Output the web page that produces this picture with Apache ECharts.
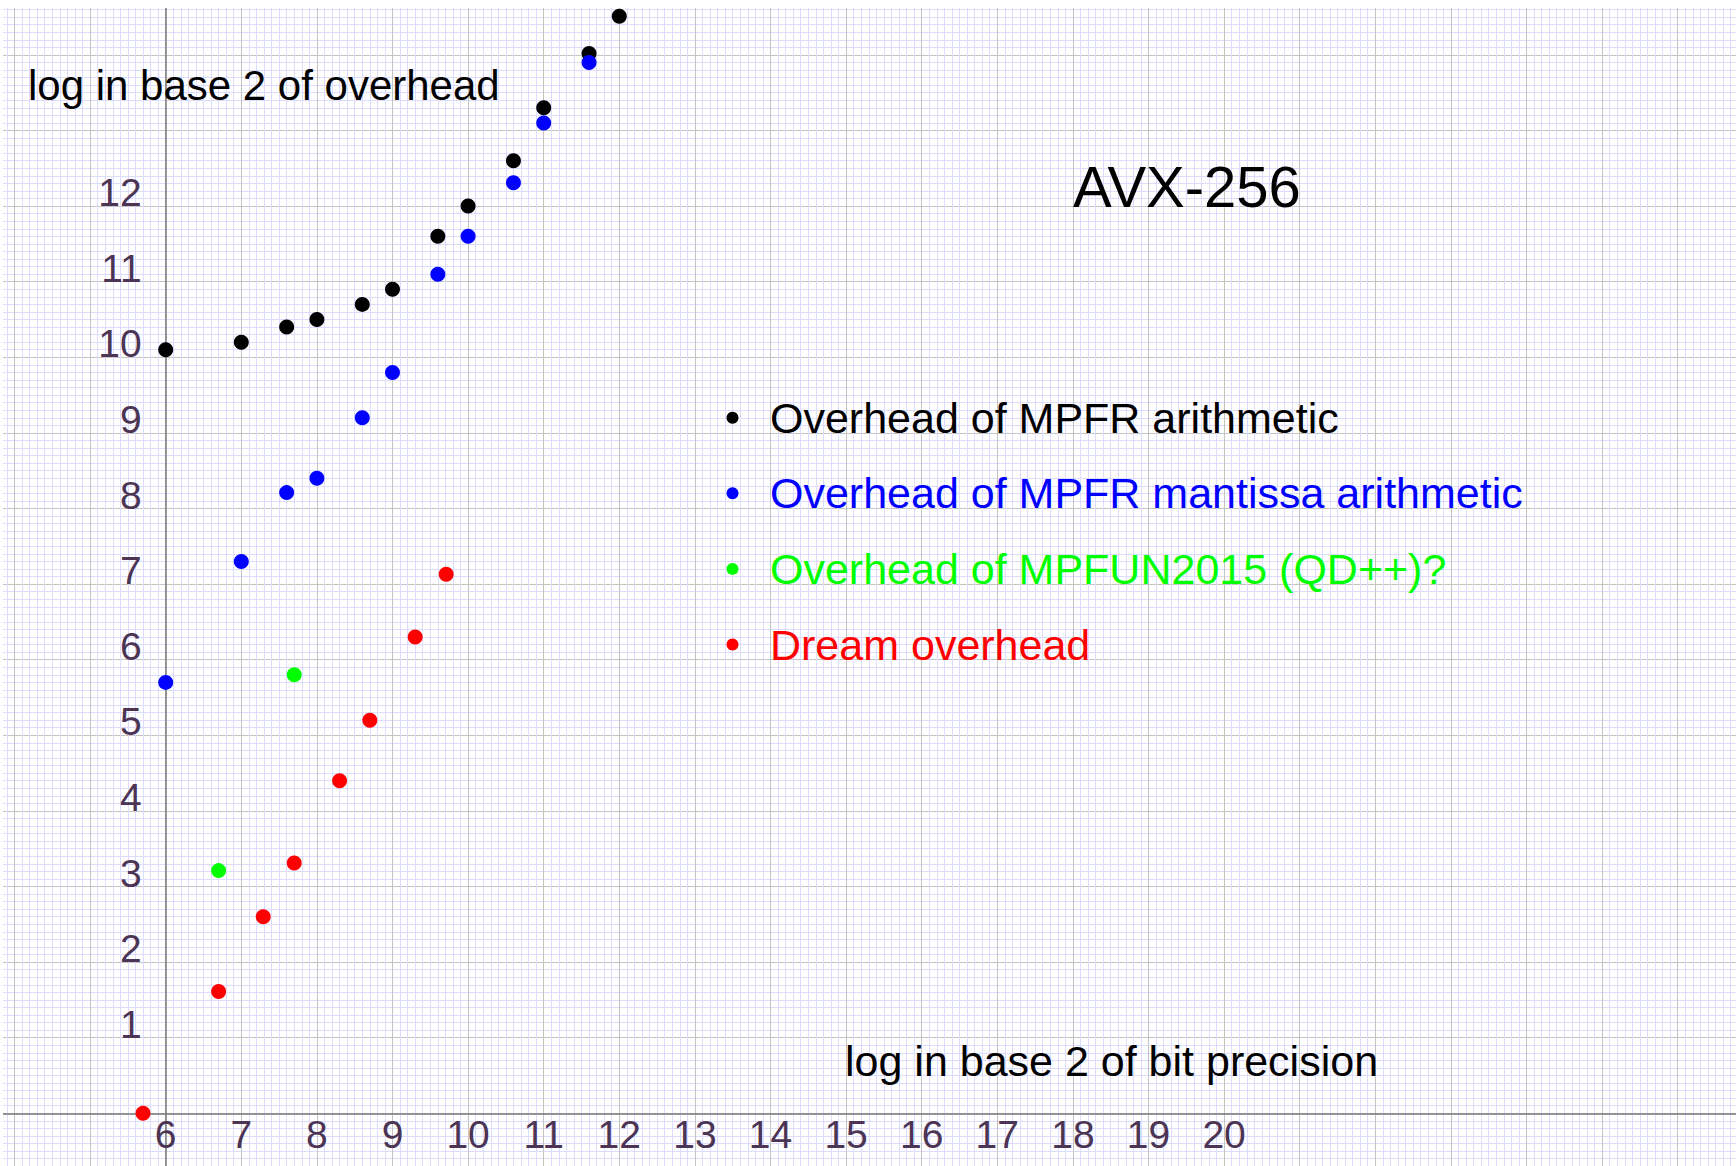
<!DOCTYPE html>
<html>
<head>
<meta charset="utf-8">
<title>AVX-256 overhead</title>
<script src="https://cdn.jsdelivr.net/npm/echarts@6/dist/echarts.min.js"></script>
<style>
html, body { margin: 0; padding: 0; background: #fff; }
#chart { width: 1736px; height: 1166px; }
</style>
</head>
<body>
<div id="chart"></div>
<script>
// x = log2 of bit precision, y = log2 of overhead
var mpfrX = [6, 7, 7.6, 8, 8.6, 9, 9.6, 10, 10.6, 11, 11.6, 12];
var mpfrY = [10.1, 10.2, 10.4, 10.5, 10.7, 10.9, 11.6, 12.0, 12.6, 13.3, 14.02, 14.51];
var mantissaX = [6, 7, 7.6, 8, 8.6, 9, 9.6, 10, 10.6, 11, 11.6];
var mantissaY = [5.7, 7.3, 8.21, 8.4, 9.2, 9.8, 11.1, 11.6, 12.31, 13.1, 13.9];
var mpfunX = [6.7, 7.7];
var mpfunY = [3.21, 5.8];
var dreamX = [5.7, 6.7, 7.29, 7.7, 8.3, 8.7, 9.3, 9.71];
var dreamY = [0, 1.61, 2.6, 3.31, 4.4, 5.2, 6.3, 7.13];

var seriesNames = [
    'Overhead of MPFR arithmetic',
    'Overhead of MPFR mantissa arithmetic',
    'Overhead of MPFUN2015 (QD++)?',
    'Dream overhead'
];
var seriesColors = ['#000000', '#0000ff', '#00ff00', '#ff0000'];

var xLabelRange = [6, 20];   // only these x ticks get a number
var yLabelRange = [1, 12];
var xTitle = 'log in base 2 of bit precision';
var yTitle = 'log in base 2 of overhead';
var chartTitle = 'AVX-256';

var fontFamily = '"Liberation Sans", Arial, sans-serif';
var labelColor = '#4b3454';

var pairs = function(xs, ys) {
    return xs.map(function(x, i) { return [x, ys[i]]; });
};
var seriesData = [
    pairs(mpfrX, mpfrY),
    pairs(mantissaX, mantissaY),
    pairs(mpfunX, mpfunY),
    pairs(dreamX, dreamY)
];

var myChart = echarts.init(document.getElementById('chart'), null, { renderer: 'svg' });

var gridLines = {
    splitLine: { show: true, lineStyle: { color: '#c4c4c4', width: 1 } },
    minorTick: { show: false, splitNumber: 10 },
    minorSplitLine: { show: true, lineStyle: { color: '#dddcff', width: 1 } }
};

var option = {
    backgroundColor: '#ffffff',
    animation: false,
    // one unit = 75.6 px on both axes; the grid runs past the canvas so min/max stay whole numbers
    grid: {
        left: -61.1, right: -17.3, top: -20.7, bottom: -22.9,
        containLabel: false,
        outerBoundsMode: 'none'
    },
    xAxis: Object.assign({
        type: 'value',
        position: 'bottom',
        min: 3,
        max: 27,
        interval: 1,
        offset: -75.6, // puts the horizontal axis at y = 0
        axisLine: { show: true, onZero: false, lineStyle: { color: '#7a7a7a', width: 1.5 } },
        axisTick: { show: false },
        axisLabel: {
            fontSize: 39,
            fontFamily: fontFamily,
            color: labelColor,
            margin: 2,
            formatter: function(v) {
                return (v >= xLabelRange[0] && v <= xLabelRange[1]) ? String(v) : '';
            }
        }
    }, gridLines),
    yAxis: Object.assign({
        type: 'value',
        position: 'left',
        min: -1,
        max: 15,
        interval: 1,
        offset: -226.8, // puts the vertical axis at x = 6
        axisLine: { show: true, onZero: false, lineStyle: { color: '#7a7a7a', width: 1.5 } },
        axisTick: { show: false },
        axisLabel: {
            fontSize: 39,
            fontFamily: fontFamily,
            color: labelColor,
            margin: 24,
            verticalAlign: 'bottom',
            lineHeight: 27,
            formatter: function(v) {
                return (v >= yLabelRange[0] && v <= yLabelRange[1]) ? String(v) : '';
            }
        }
    }, gridLines),
    legend: {
        orient: 'vertical',
        left: 726.5,
        top: 392.7,
        padding: 0,
        itemWidth: 12,
        itemHeight: 12,
        itemGap: 25.6,
        icon: 'circle',
        selectedMode: false,
        textStyle: {
            fontSize: 43,
            fontFamily: fontFamily,
            lineHeight: 50,
            padding: [0, 0, 0, 26.5]
        },
        data: seriesNames.map(function(name, i) {
            return { name: name, textStyle: { color: seriesColors[i] } };
        })
    },
    series: seriesNames.map(function(name, i) {
        return {
            name: name,
            type: 'scatter',
            data: seriesData[i],
            symbol: 'circle',
            symbolSize: 15,
            itemStyle: { color: seriesColors[i], opacity: 1 },
            emphasis: { disabled: true }
        };
    }),
    graphic: [
        { type: 'rect', z: 100, silent: true, shape: { x: 0, y: 0, width: 1736, height: 8 }, style: { fill: '#ffffff' } },
        { type: 'rect', z: 100, silent: true, shape: { x: 0, y: 0, width: 3, height: 1166 }, style: { fill: '#ffffff' } },
        {
            type: 'text', z: 101, x: 28, y: 85.4,
            style: { text: yTitle, fontSize: 42, fontFamily: fontFamily, fill: '#000', verticalAlign: 'middle' }
        },
        {
            type: 'text', z: 101, x: 845, y: 1061,
            style: { text: xTitle, fontSize: 43, fontFamily: fontFamily, fill: '#000', verticalAlign: 'middle' }
        },
        {
            type: 'text', z: 101, x: 1073, y: 186,
            style: { text: chartTitle, fontSize: 58, fontFamily: fontFamily, fill: '#000', verticalAlign: 'middle' }
        }
    ]
};

myChart.setOption(option);
</script>
</body>
</html>
